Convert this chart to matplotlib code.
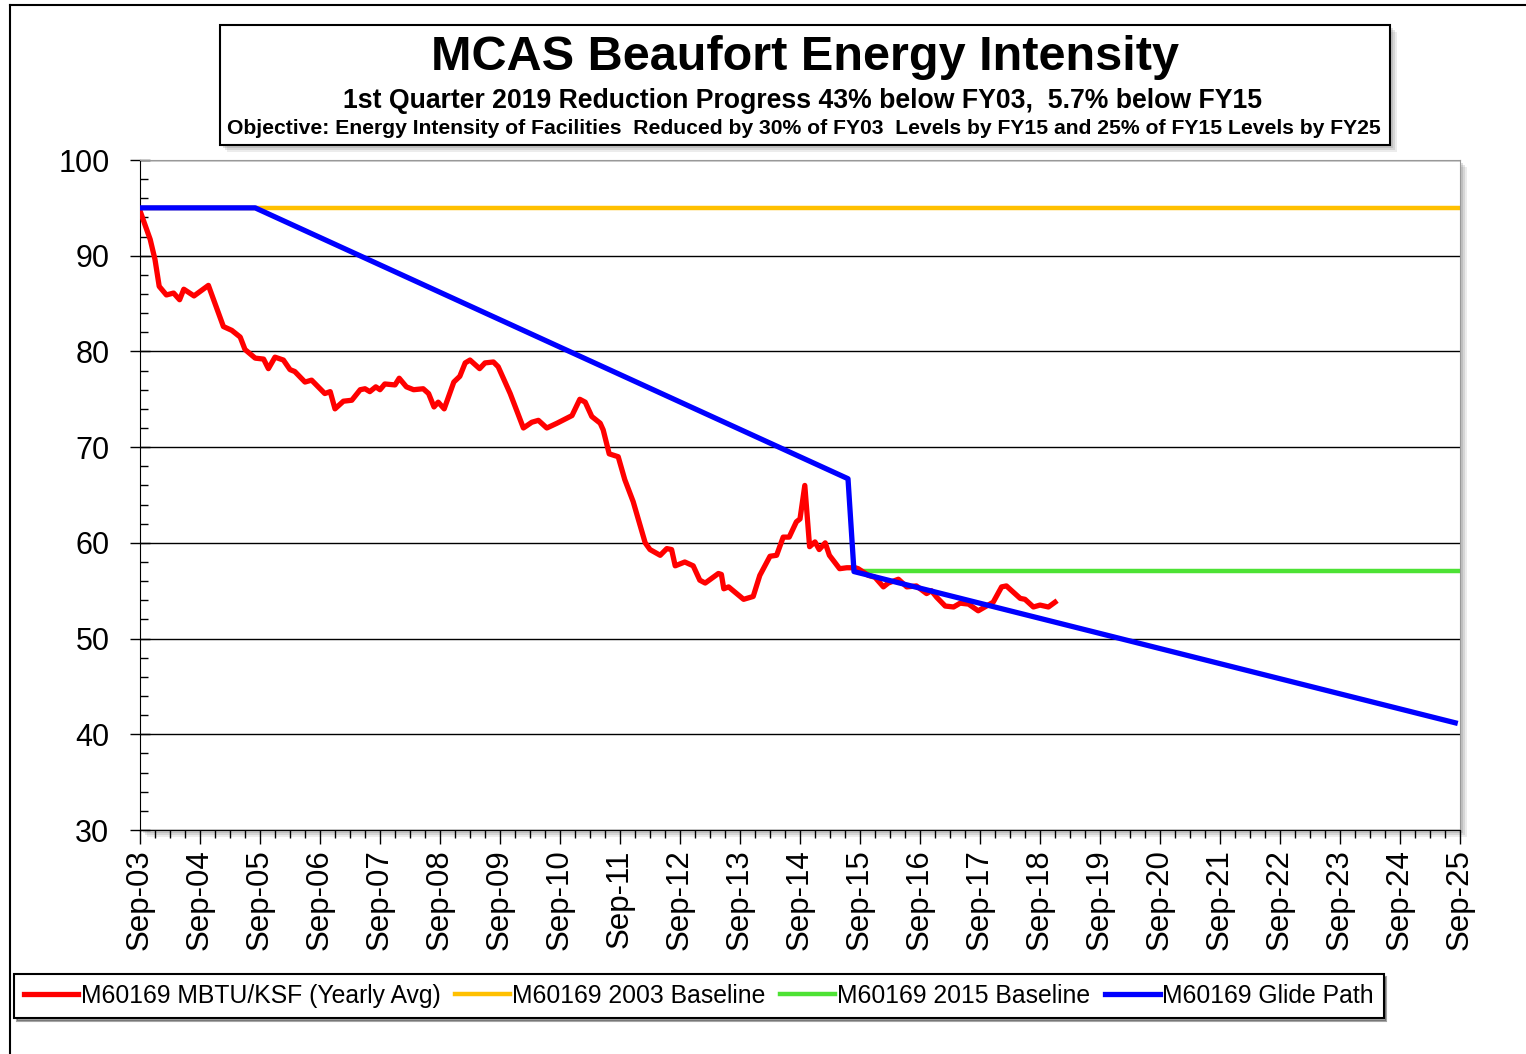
import matplotlib.pyplot as plt
import matplotlib.patches as mpatches
from matplotlib.lines import Line2D
import numpy as np

plt.rcParams['font.family'] = ['Liberation Sans', 'DejaVu Sans']

# years after Sep-03
red_t = [0.0, 0.17, 0.25, 0.32, 0.44, 0.56, 0.66, 0.73, 0.90, 1.14, 1.39, 1.53, 1.67, 1.75,
         1.92, 2.06, 2.14, 2.25, 2.39, 2.50, 2.58, 2.75, 2.86, 3.08, 3.17, 3.25, 3.39, 3.53,
         3.67, 3.75, 3.83, 3.93, 4.00, 4.08, 4.25, 4.32, 4.44, 4.56, 4.72, 4.81, 4.90, 4.97,
         5.07, 5.23, 5.33, 5.42, 5.50, 5.66, 5.75, 5.89, 5.97, 6.17, 6.39, 6.53, 6.64, 6.78,
         6.95, 7.20, 7.33, 7.42, 7.53, 7.67, 7.72, 7.82, 7.97, 8.08, 8.22, 8.42, 8.50, 8.67,
         8.78, 8.86, 8.92, 9.08, 9.22, 9.33, 9.42, 9.64, 9.69, 9.73, 9.81, 10.06, 10.22, 10.33,
         10.50, 10.61, 10.72, 10.82, 10.94, 11.00, 11.08, 11.16, 11.25, 11.32, 11.42, 11.49,
         11.66, 11.78, 11.92, 11.97, 12.14, 12.25, 12.39, 12.47, 12.64, 12.78, 12.94, 13.11,
         13.19, 13.28, 13.42, 13.56, 13.67, 13.81, 13.97, 14.08, 14.22, 14.36, 14.44, 14.67,
         14.75, 14.89, 15.00, 15.14, 15.25]
red_v = [94.7, 91.7, 89.6, 86.8, 85.9, 86.1, 85.4, 86.5, 85.8, 86.9, 82.6, 82.2, 81.5, 80.2,
         79.3, 79.2, 78.2, 79.4, 79.1, 78.1, 77.9, 76.8, 77.0, 75.6, 75.8, 74.0, 74.8, 74.9,
         76.0, 76.1, 75.8, 76.3, 76.0, 76.6, 76.5, 77.2, 76.3, 76.0, 76.1, 75.6, 74.2, 74.7,
         74.0, 76.8, 77.4, 78.8, 79.1, 78.2, 78.8, 78.9, 78.4, 75.6, 72.0, 72.6, 72.8, 72.0,
         72.5, 73.3, 75.0, 74.7, 73.2, 72.5, 71.8, 69.3, 69.0, 66.6, 64.3, 60.0, 59.3, 58.7,
         59.4, 59.3, 57.6, 58.0, 57.6, 56.1, 55.8, 56.8, 56.7, 55.2, 55.4, 54.1, 54.4, 56.6,
         58.6, 58.7, 60.6, 60.6, 62.2, 62.5, 66.0, 59.6, 60.1, 59.3, 60.0, 58.7,
         57.3, 57.4, 57.4, 57.3, 56.6, 56.4, 55.4, 55.8, 56.2, 55.4, 55.5, 54.7,
         55.0, 54.3, 53.4, 53.3, 53.7, 53.6, 52.9, 53.3, 53.8, 55.4, 55.5, 54.2,
         54.1, 53.3, 53.5, 53.3, 53.8]

base03_t = [0.0, 22.0]
base03_v = [95.0, 95.0]
base15_t = [11.92, 22.0]
base15_v = [57.1, 57.1]
glide_t = [0.0, 1.92, 11.8, 11.9, 21.92]
glide_v = [95.0, 95.0, 66.7, 57.0, 41.2]

tick_labels = ['Sep-%02d' % (y % 100) for y in range(2003, 2026)]

W, H = 1526, 1054
fig = plt.figure(figsize=(W / 100, H / 100), dpi=100)


def fx(px):
    return px / W


def fy(py):
    return 1 - py / H


# outer frame
fig.add_artist(Line2D([fx(10), 1.0], [fy(5), fy(5)], color='black', lw=1.5))
fig.add_artist(Line2D([fx(10), fx(10)], [fy(5), 0.0], color='black', lw=1.5))

ax = fig.add_axes([fx(140), fy(830), fx(1460) - fx(140), fy(160) - fy(830)])

# plot area shadow
for off, a in [(7, 0.15), (5, 0.2), (3, 0.25)]:
    fig.add_artist(mpatches.Rectangle((fx(140 + off), fy(830 + off)),
                                      fx(1460) - fx(140), fy(160) - fy(830),
                                      facecolor='gray', alpha=a, edgecolor='none', zorder=-2))

ax.plot(red_t, red_v, color='#ff0000', lw=3.8, label='M60169 MBTU/KSF (Yearly Avg)', zorder=3,
        solid_joinstyle='round')
ax.plot(base03_t, base03_v, color='#ffc000', lw=3.2, label='M60169 2003 Baseline', zorder=2)
ax.plot(base15_t, base15_v, color='#4de234', lw=3.2, label='M60169 2015 Baseline', zorder=2)
ax.plot(glide_t, glide_v, color='#0000ff', lw=3.8, label='M60169 Glide Path', zorder=4)

ax.set_xlim(0, 22)
ax.set_ylim(30, 100)
ax.set_xticks(range(23))
ax.set_xticklabels(tick_labels, rotation=90, fontsize=22.5)
ax.set_xticks(np.arange(0, 22.01, 0.25), minor=True)
ax.set_yticks(range(30, 101, 10))
ax.set_yticks(range(30, 101, 2), minor=True)
ax.tick_params(axis='y', which='major', direction='inout', length=14, width=1, labelsize=22, pad=15)
ax.tick_params(axis='y', which='minor', direction='in', length=6, width=1)
ax.tick_params(axis='x', which='major', direction='out', length=10, width=1, pad=4)
ax.tick_params(axis='x', which='minor', direction='out', length=6, width=1)
ax.yaxis.grid(True, which='major', color='black', lw=1)
ax.set_axisbelow(True)
for s in ['top', 'right']:
    ax.spines[s].set_color('#999999')
for s in ['left', 'bottom']:
    ax.spines[s].set_color('black')

# title box
for off, a in [(7, 0.15), (5, 0.2), (3, 0.25)]:
    fig.add_artist(mpatches.Rectangle((fx(220 + off), fy(145 + off)), fx(1390) - fx(220),
                                      fy(25) - fy(145), facecolor='gray', alpha=a,
                                      edgecolor='none'))
fig.add_artist(mpatches.Rectangle((fx(220), fy(145)), fx(1390) - fx(220), fy(25) - fy(145),
                                  facecolor='white', edgecolor='black', lw=1.5))
fig.text(fx(805), fy(58), 'MCAS Beaufort Energy Intensity', ha='center', va='center',
         fontsize=35, fontweight='bold')
fig.text(fx(803), fy(101), '1st Quarter 2019 Reduction Progress 43% below FY03,  5.7% below FY15',
         ha='center', va='center', fontsize=19.2, fontweight='bold')
fig.text(fx(804), fy(128), 'Objective: Energy Intensity of Facilities  Reduced by 30% of FY03  '
         'Levels by FY15 and 25% of FY15 Levels by FY25',
         ha='center', va='center', fontsize=15.2, fontweight='bold')

leg = fig.legend(loc='lower left', bbox_to_anchor=(fx(14), fy(1018)), ncol=4, fontsize=17.8,
                 frameon=True, fancybox=False, shadow=True, edgecolor='black',
                 handlelength=2.2, handletextpad=0.1, columnspacing=0.6, borderpad=0.4,
                 borderaxespad=0)
leg.get_frame().set_linewidth(1.5)

fig.savefig('out.png', dpi=100)
